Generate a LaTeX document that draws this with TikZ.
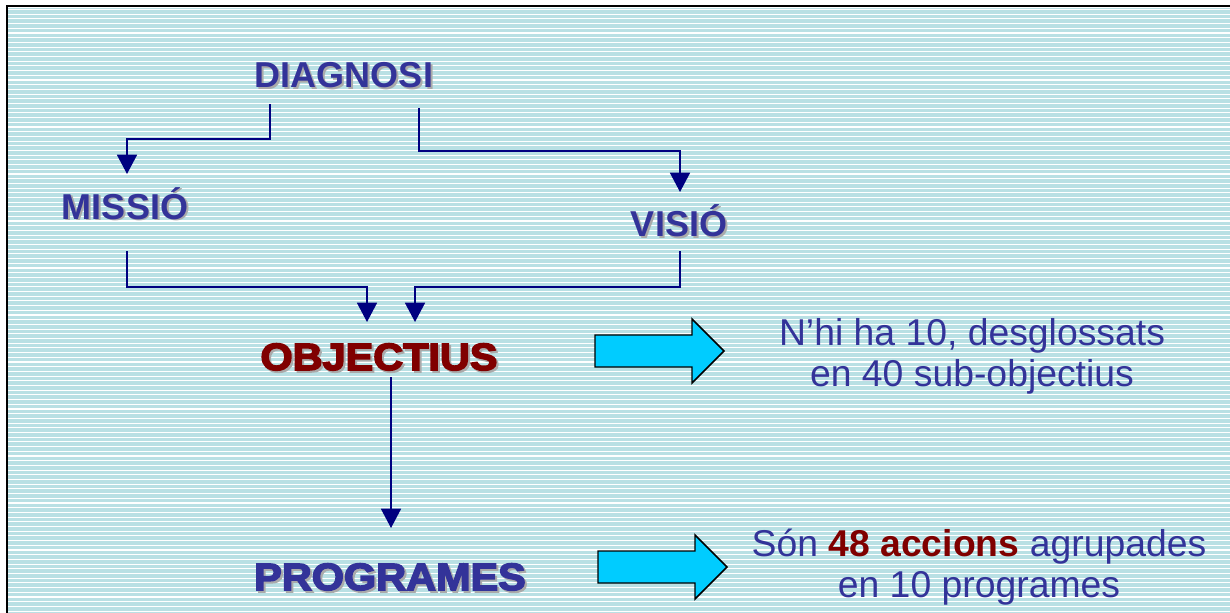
\documentclass[tikz,border=0pt]{standalone}
\usepackage{fontspec}
\setmainfont{Liberation Sans}
\newfontfamily\blackfont[FakeBold=4,FakeStretch=1.09]{Liberation Sans Bold}
\usetikzlibrary{arrows.meta}
\definecolor{bgcyan}{RGB}{185,224,228}
\definecolor{txtblue}{RGB}{51,51,153}
\definecolor{darkred}{RGB}{128,0,0}
\definecolor{linknavy}{RGB}{0,0,128}
\definecolor{arrowcyan}{RGB}{0,204,255}
\definecolor{shadowgray}{RGB}{170,170,170}
\newcommand\shadowed[1]{\rlap{\kern1.5pt\raisebox{-1.5pt}{\color{shadowgray}#1}}#1}
\begin{document}
\begin{tikzpicture}[x=0.75pt,y=-0.75pt,>={Triangle[width=15pt,length=14.5pt]}]
  \tikzstyle{head}=[anchor=base,inner sep=0pt,text=txtblue,font=\bfseries\fontsize{27}{32}\selectfont]
  \tikzstyle{big}=[anchor=base,inner sep=0pt,font=\blackfont\fontsize{28.5}{34}\selectfont]
  \tikzstyle{info}=[align=center,inner sep=0pt,text=txtblue,font=\fontsize{28}{30.75}\selectfont]
  \tikzstyle{link}=[->,linknavy,line width=1.3pt]
  \tikzstyle{bigarrow}=[draw=black,fill=arrowcyan,line width=1.1pt,line join=miter]
  \useasboundingbox (0,0) rectangle (1230,613);
  \clip (0,0) rectangle (1230,613);
  % striped background
  \fill[bgcyan] (8,8) rectangle (1240,620);
  \foreach \y in {9.5,14.2,...,613}
    \draw[white,line width=0.8pt] (8,\y) -- (1240,\y);
  \draw[line width=1.5pt] (7,6) rectangle (1240,620);
  % titles
  \node[head] (diag) at (344,88) {\shadowed{DIAGNOSI}};
  \node[head] (missio) at (125,219) {\shadowed{MISSIÓ}};
  \node[head] (visio) at (679,236) {\shadowed{VISIÓ}};
  \node[big,text=darkred] (obj) at (379,370) {\shadowed{OBJECTIUS}};
  \node[big,text=txtblue] (prog) at (390,590) {\shadowed{PROGRAMES}};
  \node[info] (info1) at (972,356) {N’hi ha 10, desglossats\\en 40 sub-objectius};
  \node[info] (info2) at (979,567) {Són \textbf{\color{darkred}48 accions} agrupades\\en 10 programes};
  % attachments
  \path (diag.base) + (-74,16) coordinate (dl);
  \path (diag.base) + (75,20) coordinate (dr);
  \path (missio.base) + (2,-45) coordinate (mi);
  \path (missio.base) + (2,32) coordinate (mo);
  \path (visio.base) + (1,-44) coordinate (vi);
  \path (visio.base) + (1,15) coordinate (vo);
  \path (obj.base) + (-12,-48) coordinate (oil);
  \path (obj.base) + (36,-48) coordinate (oir);
  \path (obj.base) + (12,7) coordinate (oo);
  \path (prog.base) + (1,-62) coordinate (pi);
  \draw[link] (dl) -- +(0,35) -| (mi);
  \draw[link] (dr) -- +(0,43) -| (vi);
  \draw[link] (mo) -- +(0,36) -| (oil);
  \draw[link] (vo) -- +(0,36) -| (oir);
  \draw[link] (oo) -- (pi);
  % block arrows
  \foreach \ax/\ay in {595/351,598/567}
    \draw[bigarrow] (\ax,\ay) ++(0,-16) -- ++(97,0) -- ++(0,-16) -- ++(32,32)
      -- ++(-32,32) -- ++(0,-16) -- ++(-97,0) -- cycle;
\end{tikzpicture}
\end{document}
